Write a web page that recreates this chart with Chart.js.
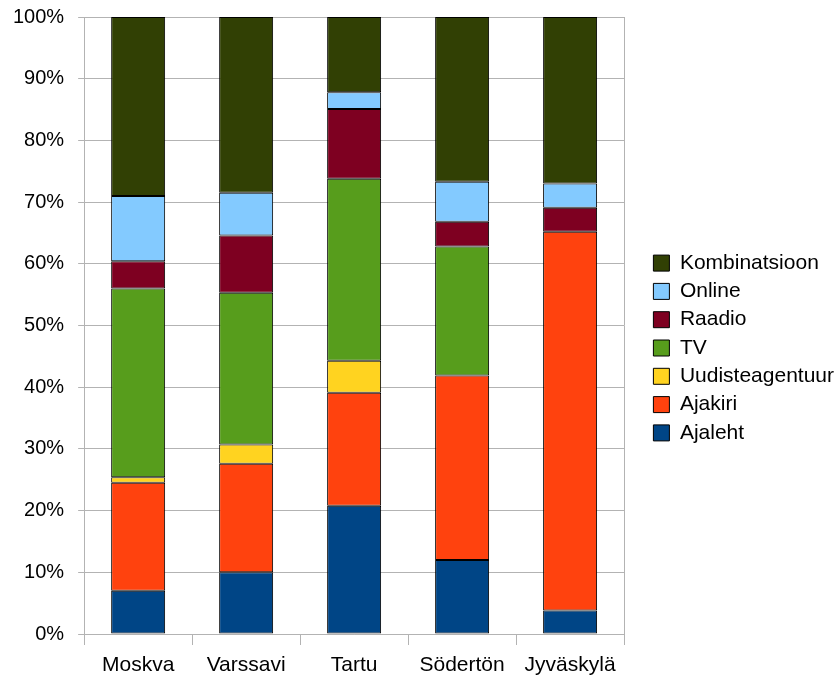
<!DOCTYPE html>
<html lang="et">
<head>
<meta charset="UTF-8">
<title>Meediakanalid</title>
<script src="https://cdn.jsdelivr.net/npm/chart.js"></script>
<style>
  html, body { margin: 0; padding: 0; background: #fff; }
  #wrap { width: 837px; height: 677px; }
</style>
</head>
<body>
<div id="wrap"><canvas id="myChart"></canvas></div>
<script>
// andmed (protsendid)
const cities = ['Moskva', 'Varssavi', 'Tartu', 'Södertön', 'Jyväskylä'];
const ajaleht = [7.0, 10.0, 20.8, 12.0, 3.8];
const ajakiri = [17.5, 17.6, 18.3, 29.9, 61.4];
const uudisteagentuur = [0.9, 3.1, 5.2, 0, 0];
const tv = [30.6, 24.6, 29.5, 20.9, 0];
const raadio = [4.4, 9.3, 11.3, 4.0, 3.9];
const online = [10.6, 6.9, 2.7, 6.5, 3.9];
const kombinatsioon = [29.0, 28.5, 12.2, 26.7, 27.0];
const yTicks = [0, 10, 20, 30, 40, 50, 60, 70, 80, 90, 100];

const gridColor = '#b3b3b3';
Chart.defaults.font.family = '"Liberation Sans", Arial, sans-serif';
Chart.defaults.font.size = 20;
Chart.defaults.color = '#000';

function ds(label, data, color) {
    return {
        label: label,
        data: data,
        backgroundColor: color,
        borderColor: '#000',
        borderWidth: 1,
        borderSkipped: false
    };
}

// legend sits a bit away from the plot
const shiftLegend = {
    id: 'shiftLegend',
    afterLayout(chart) {
        chart.legend.left += 22;
        chart.legend.right += 22;
        chart.legend.top -= 3;
        chart.legend.bottom -= 3;
    }
};

const ctx = document.getElementById('myChart').getContext('2d');
new Chart(ctx, {
    type: 'bar',
    data: {
        labels: cities,
        datasets: [
            ds('Ajaleht', ajaleht, '#004586'),
            ds('Ajakiri', ajakiri, '#ff420e'),
            ds('Uudisteagentuur', uudisteagentuur, '#ffd320'),
            ds('TV', tv, '#579d1c'),
            ds('Raadio', raadio, '#7e0021'),
            ds('Online', online, '#83caff'),
            ds('Kombinatsioon', kombinatsioon, '#314004')
        ]
    },
    plugins: [shiftLegend],
    options: {
        responsive: true,
        maintainAspectRatio: false,
        animation: false,
        barPercentage: 0.5,
        categoryPercentage: 1,
        layout: { padding: { left: -1, top: 17, right: 15, bottom: -8 } },
        plugins: {
            tooltip: { enabled: false },
            legend: {
                position: 'right',
                reverse: true,
                labels: {
                    boxWidth: 16,
                    boxHeight: 16,
                    padding: 7.3,
                    font: { size: 21 }
                }
            }
        },
        scales: {
            x: {
                stacked: true,
                grid: {
                    display: true,
                    drawOnChartArea: true,
                    color: c => (c.index === 0 || c.index === undefined) ? gridColor : 'rgba(0,0,0,0)',
                    tickColor: gridColor,
                    tickLength: 11,
                    offset: true
                },
                border: { color: gridColor },
                ticks: { padding: 7.4, font: { size: 21 } }
            },
            y: {
                stacked: true,
                min: 0,
                max: 100,
                afterBuildTicks: s => { s.ticks = yTicks.map(v => ({ value: v })); },
                afterFit: s => { s.paddingTop = 12; s.paddingBottom = 12; },
                grid: { color: gridColor, tickLength: 6 },
                border: { color: gridColor },
                ticks: {
                    padding: 14,
                    callback: v => v + '%'
                }
            }
        }
    }
});
</script>
</body>
</html>
